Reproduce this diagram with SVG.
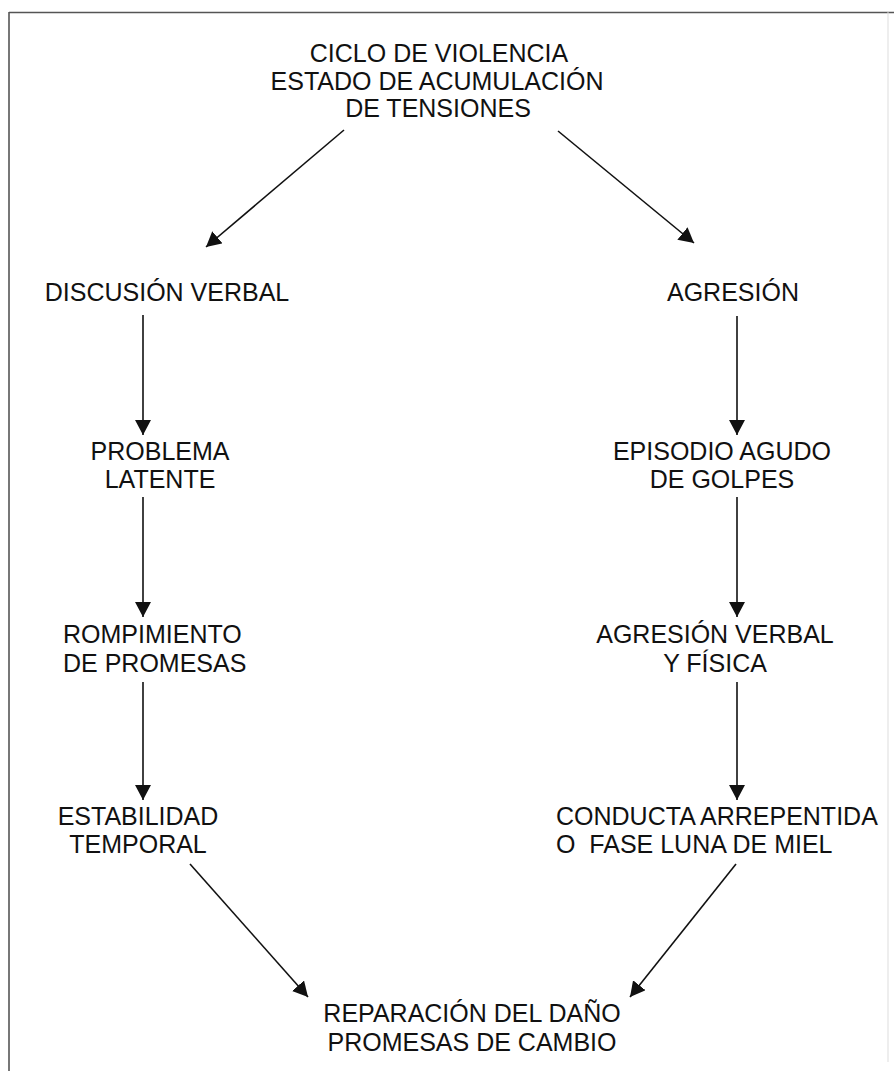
<svg xmlns="http://www.w3.org/2000/svg" width="894" height="1071" viewBox="0 0 894 1071">
<style>
text{font-family:"Liberation Sans",Arial,sans-serif;font-size:25px;fill:#111;}
.c{text-anchor:middle;}
.edge{stroke:#111;stroke-width:1.6;fill:none;marker-end:url(#ah);}
.frame{stroke:#555;stroke-width:1.6;fill:none;}
</style>
<defs>
<marker id="ah" markerUnits="userSpaceOnUse" markerWidth="16" markerHeight="16" refX="15" refY="8" orient="auto" viewBox="0 0 16 16">
<path d="M0,0 L15,8 L0,16 z" fill="#111"/>
</marker>
</defs>
<rect width="894" height="1071" fill="#fff"/>
<g id="frame">
<line class="frame" x1="9" y1="12.5" x2="894" y2="12.5"/>
<line class="frame" x1="9" y1="12" x2="9" y2="1071"/>
<line x1="888" y1="12" x2="888" y2="1062" stroke="#ddd" stroke-width="1"/>
</g>
<g id="n_ciclo">
<text class="c" x="439" y="62">CICLO DE VIOLENCIA</text>
<text class="c" x="437" y="90">ESTADO DE ACUMULACIÓN</text>
<text class="c" x="438" y="117">DE TENSIONES</text>
</g>
<g id="n_discusion"><text class="c" x="167" y="301">DISCUSIÓN VERBAL</text></g>
<g id="n_agresion"><text class="c" x="733" y="301">AGRESIÓN</text></g>
<g id="n_problema">
<text class="c" x="160" y="460">PROBLEMA</text>
<text class="c" x="160" y="488">LATENTE</text>
</g>
<g id="n_episodio">
<text class="c" x="722" y="460">EPISODIO AGUDO</text>
<text class="c" x="722" y="488">DE GOLPES</text>
</g>
<g id="n_rompimiento">
<text x="63" y="643">ROMPIMIENTO</text>
<text x="63" y="672">DE PROMESAS</text>
</g>
<g id="n_agresion_vf">
<text class="c" x="715" y="643">AGRESIÓN VERBAL</text>
<text class="c" x="715" y="672">Y FÍSICA</text>
</g>
<g id="n_estabilidad">
<text class="c" x="138" y="825">ESTABILIDAD</text>
<text class="c" x="138" y="853">TEMPORAL</text>
</g>
<g id="n_conducta">
<text x="556" y="825">CONDUCTA ARREPENTIDA</text>
<text x="556" y="853" xml:space="preserve">O  FASE LUNA DE MIEL</text>
</g>
<g id="n_reparacion">
<text class="c" x="472" y="1022">REPARACIÓN DEL DAÑO</text>
<text class="c" x="472" y="1051">PROMESAS DE CAMBIO</text>
</g>
<g id="connectors">
<line class="edge" x1="344" y1="130" x2="206" y2="247"/>
<line class="edge" x1="558" y1="131" x2="694" y2="243"/>
<line class="edge" x1="143" y1="315" x2="143" y2="435"/>
<line class="edge" x1="737" y1="316" x2="737" y2="435"/>
<line class="edge" x1="143" y1="497" x2="143" y2="617"/>
<line class="edge" x1="737" y1="497" x2="737" y2="617"/>
<line class="edge" x1="143" y1="682" x2="143" y2="800"/>
<line class="edge" x1="737" y1="682" x2="737" y2="800"/>
<line class="edge" x1="190" y1="864" x2="308" y2="997"/>
<line class="edge" x1="736" y1="864" x2="630" y2="997"/>
</g>
</svg>
